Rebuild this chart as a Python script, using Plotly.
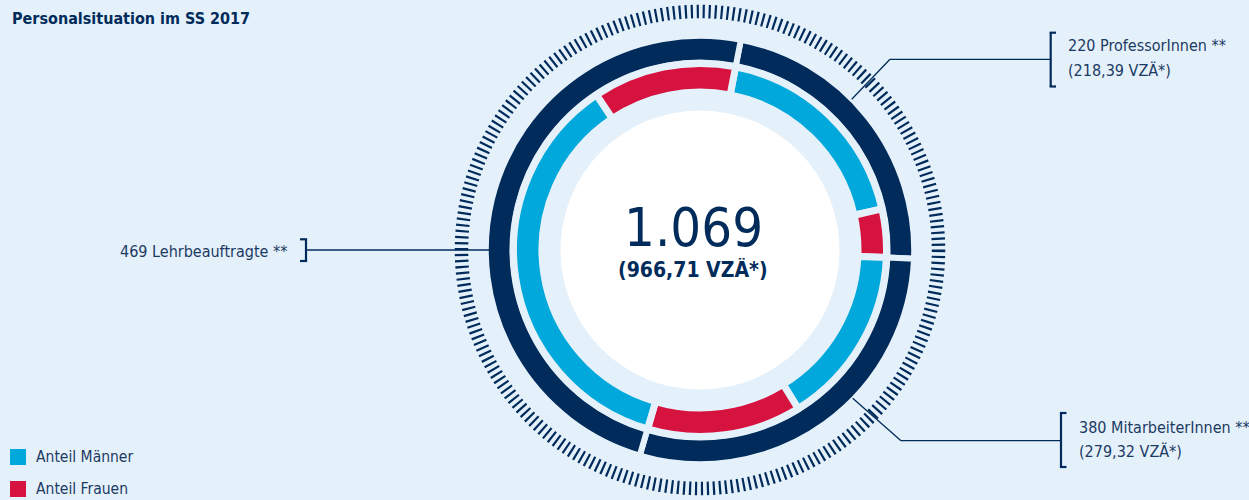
import plotly.graph_objects as go

# ---------------- data ----------------
categories = ["ProfessorInnen", "MitarbeiterInnen", "Lehrbeauftragte"]
headcount = [220, 380, 469]
vzae = [218.39, 279.32, 469.0]          # outer ring arcs (VZÄ)
men_vzae = [178.0, 150.1, 349.0]         # inner ring, Anteil Männer
women_vzae = [40.4, 129.2, 120.0]        # inner ring, Anteil Frauen
total_headcount = 1069
total_vzae = 966.71
legend_labels = ["Anteil Männer", "Anteil Frauen"]
title_text = "Personalsituation im SS 2017"

# ---------------- style ----------------
W, H = 1249, 500
BG = "#E5F1FA"
NAVY = "#002B5B"
CYAN = "#00A8DB"
RED = "#D6123E"
TXT = "#1B3A63"
FONT = "DejaVu Sans Condensed, Liberation Sans Narrow, Arial Narrow, sans-serif"
CX, CY = 700, 250


def de_num(v, dec=2):
    return f"{v:,.{dec}f}".replace(",", "X").replace(".", ",").replace("X", ".")


def dom(r):
    return dict(x=[(CX - r) / W, (CX + r) / W], y=[1 - (CY + r) / H, 1 - (CY - r) / H])


fig = go.Figure()

# outer ring
R_out, w_out = 214.2, 6
fig.add_trace(go.Pie(
    labels=categories, values=vzae, sort=False, direction="clockwise", rotation=11,
    hole=187.5 / R_out, domain=dom(R_out),
    marker=dict(colors=[NAVY] * 3, line=dict(color=BG, width=w_out)),
    textinfo="none", showlegend=False, hoverinfo="label+value",
))

# inner ring (men / women per category)
inner_labels, inner_values, inner_colors = [], [], []
for c, m, f in zip(categories, men_vzae, women_vzae):
    inner_labels += [f"{c} – {legend_labels[0]}", f"{c} – {legend_labels[1]}"]
    inner_values += [m, f]
    inner_colors += [CYAN, RED]
R_in, w_in = 186.5, 7
fig.add_trace(go.Pie(
    labels=inner_labels, values=inner_values, sort=False, direction="clockwise", rotation=11,
    hole=158 / R_in, domain=dom(R_in),
    marker=dict(colors=inner_colors, line=dict(color=BG, width=w_in)),
    textinfo="none", showlegend=False, hoverinfo="label+value",
))

shapes = []
# white centre disc
r_w = 139.5
shapes.append(dict(type="circle", xref="x", yref="y", x0=CX - r_w, x1=CX + r_w, y0=CY - r_w, y1=CY + r_w,
                   fillcolor="white", line=dict(width=0), layer="below"))
# tick ring
r_t = 238.5
shapes.append(dict(type="circle", xref="x", yref="y", x0=CX - r_t, x1=CX + r_t, y0=CY - r_t, y1=CY + r_t,
                   line=dict(color=NAVY, width=13.5, dash="2.2px,3.79px"), layer="below"))


def line(x0, y0, x1, y1, w=1.3):
    shapes.append(dict(type="line", xref="x", yref="y", x0=x0, y0=y0, x1=x1, y1=y1,
                       line=dict(color=NAVY, width=w)))


# ProfessorInnen connector
line(851.7, 99.3, 890, 59.3)
line(890, 59.3, 1050.7, 59.3)
line(1050.7, 32.7, 1050.7, 86.5, 2.2)
line(1049.6, 32.7, 1056, 32.7, 2.2)
line(1049.6, 86.5, 1056, 86.5, 2.2)
# MitarbeiterInnen connector
line(852.7, 398.3, 901, 440.7)
line(901, 440.7, 1061, 440.7)
line(1061, 413, 1061, 467, 2.2)
line(1059.9, 413, 1066.5, 413, 2.2)
line(1059.9, 467, 1066.5, 467, 2.2)
# Lehrbeauftragte connector
line(306, 250, 489, 250)
line(306, 239.3, 306, 261, 2.2)
line(300, 239.3, 307.1, 239.3, 2.2)
line(300, 261, 307.1, 261, 2.2)

# legend squares
for i, col in enumerate([CYAN, RED]):
    y0 = 449 + 32 * i
    shapes.append(dict(type="rect", xref="x", yref="y", x0=10, x1=26, y0=y0, y1=y0 + 16,
                       fillcolor=col, line=dict(width=0)))

ann = []


def text(x, y, s, size, anchor="left", bold=False, color=TXT, height=None):
    a = dict(x=x, y=y, xref="x", yref="y", text=f"<b>{s}</b>" if bold else s, showarrow=False,
             xanchor=anchor, yanchor="middle", font=dict(family=FONT, size=size, color=color))
    if height is not None:
        a["height"] = height
    ann.append(a)


text(10, 18, title_text, 16, bold=True, color=NAVY)
text(693, 227, de_num(total_headcount, 0), 54, anchor="center", color=NAVY, height=46)
text(693, 269, f"({de_num(total_vzae)} VZÄ*)", 21, anchor="center", bold=True, color=NAVY, height=22)

text(1066, 45, f"{headcount[0]} {categories[0]} **", 16)
text(1066, 70, f"({de_num(vzae[0])} VZÄ*)", 16)
text(1077, 427, f"{headcount[1]} {categories[1]} **", 16)
text(1077, 451, f"({de_num(vzae[1])} VZÄ*)", 16)
text(289, 251, f"{headcount[2]} {categories[2]} **", 16, anchor="right")

for i, lab in enumerate(legend_labels):
    text(34, 457 + 32 * i, lab, 15.5)

fig.update_layout(
    width=W, height=H, autosize=False,
    margin=dict(l=0, r=0, t=0, b=0, pad=0),
    paper_bgcolor=BG, plot_bgcolor="rgba(0,0,0,0)",
    xaxis=dict(range=[0, W], visible=False, fixedrange=True),
    yaxis=dict(range=[H, 0], visible=False, fixedrange=True),
    shapes=shapes, annotations=ann, showlegend=False,
)

fig.write_html("out.html", config={"displayModeBar": False},
               post_script="document.body.style.margin='0px';")
